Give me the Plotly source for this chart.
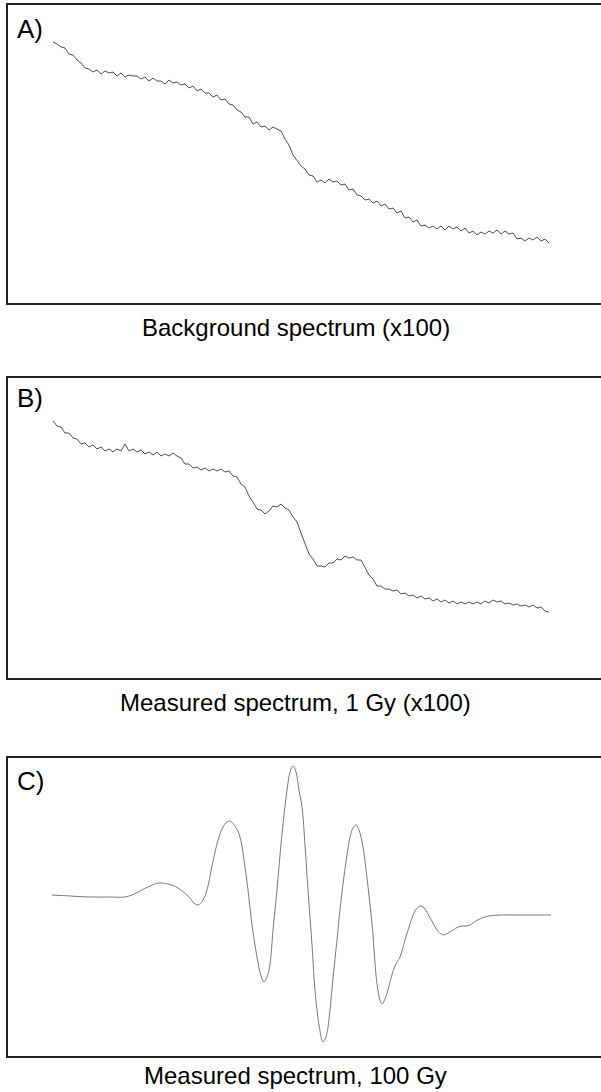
import plotly.graph_objects as go

W, H = 601, 1092

# ---------------- Panel A: background spectrum (x100) ----------------
# channel positions and intensity (intensity above panel floor)
a_channel = [53, 57, 61, 65, 69, 73, 77, 81, 85, 89, 93, 97, 101, 105, 109, 113, 117, 121, 125, 129,
             133, 137, 141, 145, 149, 153, 157, 161, 165, 169, 173, 177, 181, 185, 189, 193, 197, 201, 205, 209,
             213, 217, 221, 225, 229, 233, 237, 241, 245, 249, 253, 257, 261, 265, 269, 273, 277, 281, 285, 289,
             293, 297, 301, 305, 309, 313, 317, 321, 325, 329, 333, 337, 341, 345, 349, 353, 357, 361, 365, 369,
             373, 377, 381, 385, 389, 393, 397, 401, 405, 409, 413, 417, 421, 425, 429, 433, 437, 441, 445, 449,
             453, 457, 461, 465, 469, 473, 477, 481, 485, 489, 493, 497, 501, 505, 509, 513, 517, 521, 525, 529,
             533, 537, 541, 545, 549]
a_level = [261, 259, 256, 255, 249, 248, 243, 240, 235, 234, 231, 233, 229, 232, 230, 231, 227, 230, 226, 228,
           227, 227, 224, 226, 222, 225, 222, 222, 219, 223, 220, 221, 218, 219, 215, 217, 212, 214, 210, 210,
           206, 208, 203, 204, 199, 198, 193, 191, 186, 186, 179, 181, 176, 177, 173, 176, 174, 172, 164, 158,
           148, 143, 137, 134, 128, 127, 121, 123, 120, 124, 121, 122, 118, 119, 113, 114, 108, 107, 103, 104,
           100, 102, 97, 99, 94, 95, 90, 92, 85, 86, 81, 83, 77, 78, 75, 77, 74, 77, 73, 77,
           74, 76, 72, 75, 70, 72, 68, 71, 69, 72, 70, 73, 69, 72, 69, 70, 64, 65, 62, 65,
           63, 66, 62, 64, 60]

# ---------------- Panel B: measured spectrum, 1 Gy (x100) ----------------
b_channel = a_channel
b_level = [257, 252, 251, 245, 245, 240, 239, 234, 235, 231, 233, 229, 231, 227, 229, 226, 229, 227, 234, 227,
           229, 226, 228, 224, 226, 223, 226, 222, 224, 222, 225, 222, 220, 214, 214, 210, 211, 208, 210, 207,
           209, 207, 209, 206, 207, 202, 201, 194, 191, 182, 176, 169, 168, 164, 167, 172, 171, 174, 170, 168,
           161, 156, 145, 135, 124, 119, 112, 112, 111, 115, 115, 119, 118, 122, 120, 121, 118, 118, 111, 103,
           99, 92, 92, 89, 89, 87, 88, 84, 85, 82, 83, 80, 82, 79, 80, 77, 79, 76, 78, 75,
           77, 74, 76, 74, 76, 74, 76, 74, 77, 75, 78, 76, 77, 74, 75, 73, 74, 72, 73, 71,
           73, 70, 71, 67, 66]

# ---------------- Panel C: measured spectrum, 100 Gy ----------------
c_channel = [52, 70, 90, 110, 125, 132, 140, 150, 159, 168, 178, 188, 194, 198, 203, 207, 212, 217, 222, 226,
             230, 235, 240, 244, 248, 252, 257, 261, 264, 267, 270, 273, 277, 280, 283, 287, 290, 293, 296, 299,
             302, 305, 308, 312, 315, 319, 323, 326, 330, 333, 337, 340, 343, 347, 350, 353, 356, 359, 363, 367,
             372, 377, 380, 382, 385, 388, 391, 395, 400, 405, 410, 415, 420, 424, 428, 433, 437, 443, 448, 453,
             458, 462, 466, 470, 476, 482, 489, 500, 515, 530, 551]
c_signal = [1, 0, -1, -1, -1, 1, 5, 10, 13, 12, 8, 0, -7, -9, -4, 6, 30, 52, 67, 73,
            75, 70, 59, 36, 6, -29, -61, -80, -86, -81, -68, -34, 6, 41, 72, 106, 124, 130, 124, 106,
            89, 51, 6, -49, -94, -129, -146, -141, -114, -82, -44, -14, 12, 41, 59, 68, 71, 66, 49, 18,
            -28, -88, -104, -108, -103, -94, -82, -70, -61, -44, -28, -15, -10, -12, -18, -27, -34, -39, -37, -34,
            -31, -30, -30, -29, -25, -22, -20, -19, -19, -19, -19]

panel_labels = ["A)", "B)", "C)"]
captions = ["Background spectrum (x100)", "Measured spectrum, 1 Gy (x100)", "Measured spectrum, 100 Gy"]

# panel boxes in pixels (top, bottom)
boxes = [(5, 303), (378, 678), (758, 1056)]
y_ranges = [[0, 298], [0, 300], [-160, 138]]
caption_mid = [327, 702, 1075]
label_mid = [29, 398, 781]
left_px = 8

fig = go.Figure()
series = [(a_channel, a_level, "#3a3a3a", 0.9),
          (b_channel, b_level, "#3a3a3a", 0.9),
          (c_channel, c_signal, "#7a7a7a", 1.0)]

for i, (xs, ys, col, lw) in enumerate(series):
    n = "" if i == 0 else str(i + 1)
    fig.add_trace(go.Scatter(x=xs, y=ys, mode="lines", line=dict(color=col, width=lw, shape="spline" if i == 2 else "linear"),
                             xaxis="x" + n, yaxis="y" + n, showlegend=False, hoverinfo="skip"))
    top, bot = boxes[i]
    ax = dict(domain=[left_px / W, 1], range=[left_px, W], showline=True, mirror=True,
              linecolor="#222", linewidth=1.5, showgrid=False, zeroline=False,
              showticklabels=False, ticks="", anchor="y" + n, fixedrange=True)
    ay = dict(domain=[1 - bot / H, 1 - top / H], range=y_ranges[i], showline=True, mirror=False,
              linecolor="#222", linewidth=1.5, showgrid=False, zeroline=False,
              showticklabels=False, ticks="", anchor="x" + n, fixedrange=True)
    fig.layout["xaxis" + n] = ax
    fig.layout["yaxis" + n] = ay
    fig.add_annotation(x=295.5 / W, y=1 - caption_mid[i] / H, xref="paper", yref="paper",
                       text=captions[i], showarrow=False, xanchor="center", yanchor="middle",
                       font=dict(family="Liberation Sans, Arial, sans-serif", size=24, color="#000"))
    fig.add_annotation(x=15 / W, y=1 - label_mid[i] / H, xref="paper", yref="paper",
                       text=panel_labels[i], showarrow=False, xanchor="left", yanchor="middle",
                       font=dict(family="Liberation Sans, Arial, sans-serif", size=26, color="#000"))

fig.update_layout(width=W, height=H, margin=dict(l=0, r=0, t=0, b=0),
                  paper_bgcolor="white", plot_bgcolor="white")

fig.write_html("out.html", config={"displayModeBar": False})
